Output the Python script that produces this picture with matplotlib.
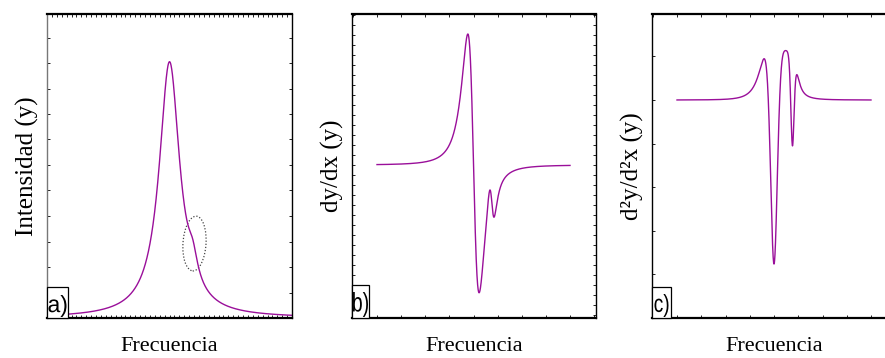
import numpy as np
import matplotlib.pyplot as plt
from matplotlib.patches import Ellipse, Rectangle, PathPatch
from matplotlib.textpath import TextPath
from matplotlib.font_manager import FontProperties
from matplotlib.transforms import Affine2D
from matplotlib.ticker import MultipleLocator

plt.rcParams.update({
    "font.family": "serif",
    "font.serif": ["Liberation Serif", "DejaVu Serif"],
})

# Lorentzian peaks (x in 0..1 across the curve)
peak_centers = [0.50, 0.595]
peak_widths = [0.051, 0.024]
peak_heights = [1.0, 0.085]

panel_letters = ["a)", "b)", "c)"]
y_labels = ["Intensidad (y)", "dy/dx (y)", "d\u00b2y/d\u00b2x (y)"]
x_label = "Frecuencia"

line_color = "#9a0f9a"

x = np.linspace(0, 1, 3001)
y = np.zeros_like(x)
for c, g, a in zip(peak_centers, peak_widths, peak_heights):
    y += a / (1 + ((x - c) / g) ** 2)
dy = np.gradient(y, x)
d2y = np.gradient(dy, x)

W, H = 885, 358
fig = plt.figure(figsize=(W / 100, H / 100), dpi=100)
px = Affine2D().scale(1 / W, 1 / H) + fig.transFigure  # pixel coords, y up


def add_ax(left, right, top, bottom):
    return fig.add_axes([left / W, (H - bottom) / H, (right - left) / W, (bottom - top) / H])


ax_a = add_ax(47, 292, 14, 318)
ax_b = add_ax(352, 596, 14, 318)
ax_c = add_ax(652, 896, 14, 318)

# panel a
ax_a.plot(x, y, color=line_color, lw=1.0)
ax_a.set_xlim(0, 1)
ax_a.set_ylim(0, 304 / 255)
ax_a.xaxis.set_major_locator(MultipleLocator(0.02))
ax_a.yaxis.set_major_locator(MultipleLocator(0.1))
ax_a.add_patch(Ellipse((0.602, 0.292), 0.094, 0.215, angle=-4, fill=False,
                       ls=(0, (1, 1.5)), lw=0.9, ec="#444444"))

# panel b
m = dy.max()
ppu = 131 / m
ax_b.plot(x, dy, color=line_color, lw=1.0)
ax_b.set_xlim(-25 / 193, 1 + 26 / 193)
ax_b.set_ylim(-(318 - 165) / ppu, (165 - 14) / ppu)
ax_b.xaxis.set_major_locator(MultipleLocator(0.125))
ax_b.yaxis.set_major_locator(MultipleLocator(10 / ppu))

# panel c
m2 = -d2y.min()
ppu2 = 164 / m2
ax_c.plot(x, d2y, color=line_color, lw=1.0)
ax_c.set_xlim(-25 / 194, 1 + 25 / 194)
ax_c.set_ylim(-(318 - 100) / ppu2, (100 - 14) / ppu2)
ax_c.xaxis.set_major_locator(MultipleLocator(0.125))
ax_c.yaxis.set_major_locator(MultipleLocator(43.6 / ppu2))

# letter boxes: left, width, height, letter width, letter height (pixels)
boxes = [(47, 21, 31, 18, 22), (352, 17, 33, 15, 25), (652, 19, 31, 14, 23)]
label_font = FontProperties(family="Liberation Sans")

for ax, letter, ylab, (bl, bw, bh, lw_, lh) in zip([ax_a, ax_b, ax_c], panel_letters, y_labels, boxes):
    ax.tick_params(which="both", direction="in", length=2, width=0.6,
                   top=True, right=True, labelleft=False, labelbottom=False)
    for s in ax.spines.values():
        s.set_linewidth(1.0)
    ax.spines["top"].set_linewidth(1.6)
    ax.spines["bottom"].set_linewidth(1.6)
    ax.set_ylabel(ylab, fontsize=18, labelpad=6)
    ax.set_xlabel(x_label, fontsize=16, labelpad=14)

    fig.patches.append(Rectangle((bl, H - 318), bw, bh, transform=px,
                                 fc="white", ec="black", lw=0.9, zorder=5))
    tp = TextPath((0, 0), letter, size=30, prop=label_font)
    ext = tp.get_extents()
    tr = (Affine2D().translate(-ext.x0, -ext.y0)
          .scale(lw_ / ext.width, lh / ext.height)
          .translate(bl + (bw - lw_) / 2, H - 317) + px)
    fig.patches.append(PathPatch(tp, transform=tr, fc="black", ec="none", zorder=6))

ax_a.spines["left"].set_color("#777777")

fig.savefig("out.png", dpi=100)
